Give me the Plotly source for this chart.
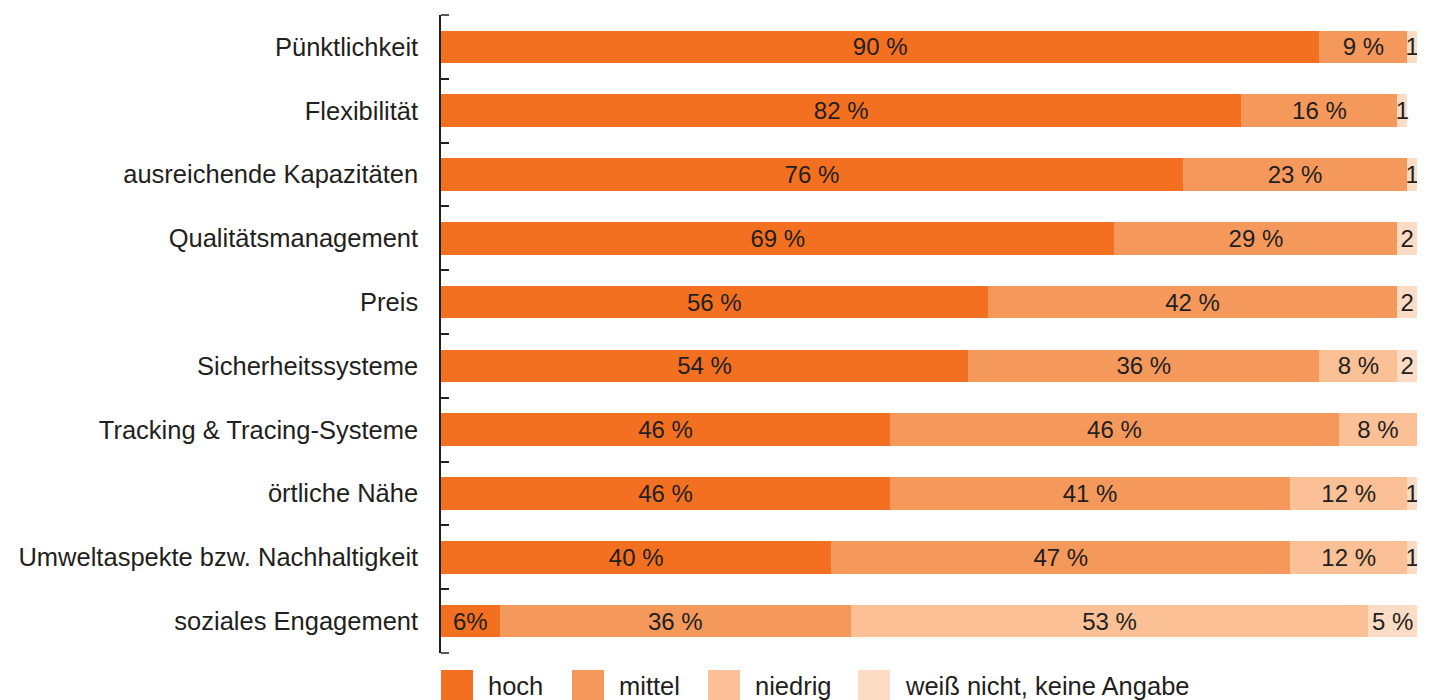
import plotly.graph_objects as go

# Survey: importance of logistics service criteria (share of respondents, %)
categories = [
    "Pünktlichkeit",
    "Flexibilität",
    "ausreichende Kapazitäten",
    "Qualitätsmanagement",
    "Preis",
    "Sicherheitssysteme",
    "Tracking & Tracing-Systeme",
    "örtliche Nähe",
    "Umweltaspekte bzw. Nachhaltigkeit",
    "soziales Engagement",
]
hoch = [90, 82, 76, 69, 56, 54, 46, 46, 40, 6]
mittel = [9, 16, 23, 29, 42, 36, 46, 41, 47, 36]
niedrig = [0, 0, 0, 0, 0, 8, 8, 12, 12, 53]
weiss_nicht = [1, 1, 1, 2, 2, 2, 0, 1, 1, 5]

series_names = ["hoch", "mittel", "niedrig", "weiß nicht, keine Angabe"]
series_values = [hoch, mittel, niedrig, weiss_nicht]
series_colors = ["#f37021", "#f5985c", "#fbc096", "#fddcc5"]

TEXT_COLOR = "#231f20"
FONT = "Liberation Sans, Arial, sans-serif"
LABEL_SIZE = 25.5


def fmt(v, compact=False):
    if v == 0:
        return ""
    if v <= 2:
        return str(v)
    return f"{v}%" if compact else f"{v} %"


fig = go.Figure()
for name, vals, col in zip(series_names, series_values, series_colors):
    labels = [fmt(v, compact=(name == "hoch" and cat == "soziales Engagement"))
              for v, cat in zip(vals, categories)]
    fig.add_trace(go.Bar(
        name=name,
        y=categories,
        x=vals,
        orientation="h",
        marker=dict(color=col, line=dict(width=0)),
        text=labels,
        textposition="inside",
        insidetextanchor="middle",
        textangle=0,
        constraintext="none",
        textfont=dict(family=FONT, size=24, color=TEXT_COLOR),
        showlegend=False,
        hoverinfo="skip",
    ))

fig.update_layout(
    width=1429,
    height=700,
    margin=dict(l=441, r=12, t=15, b=47),
    barmode="stack",
    bargap=0.49,
    paper_bgcolor="white",
    plot_bgcolor="white",
    font=dict(family=FONT, size=24, color=TEXT_COLOR),
    xaxis=dict(
        range=[0, 100],
        visible=False,
        fixedrange=True,
    ),
    yaxis=dict(
        categoryorder="array",
        categoryarray=categories,
        autorange="reversed",
        showline=True,
        linecolor=TEXT_COLOR,
        linewidth=1.5,
        ticks="inside",
        tickson="boundaries",
        ticklen=8,
        tickwidth=1.5,
        tickcolor=TEXT_COLOR,
        showgrid=False,
        zeroline=False,
        ticklabelstandoff=16,
        tickfont=dict(family=FONT, size=LABEL_SIZE, color=TEXT_COLOR),
        fixedrange=True,
    ),
)

plot_w = 1429 - 441 - 12
plot_h = 700 - 15 - 47

# Boundary ticks at the top and bottom ends of the category axis
for yb in (0, 1):
    fig.add_shape(type="line", xref="paper", yref="paper",
                  x0=0, x1=8 / plot_w, y0=yb, y1=yb,
                  line=dict(color=TEXT_COLOR, width=1.5), layer="above")

# Legend row drawn below the plot area (paper coordinates)
legend_x_px = [441, 572, 708, 858]
sq_w_px = 32
sq_top, sq_bot = 670, 702
for name, col, xp in zip(series_names, series_colors, legend_x_px):
    x0 = (xp - 441) / plot_w
    x1 = (xp + sq_w_px - 441) / plot_w
    y0 = (653 - sq_bot) / plot_h
    y1 = (653 - sq_top) / plot_h
    fig.add_shape(type="rect", xref="paper", yref="paper",
                  x0=x0, x1=x1, y0=y0, y1=y1,
                  fillcolor=col, line=dict(width=0), layer="above")
    fig.add_annotation(xref="paper", yref="paper",
                       x=(xp + sq_w_px + 13 - 441) / plot_w,
                       y=(653 - 686) / plot_h,
                       xanchor="left", yanchor="middle",
                       text=name, showarrow=False,
                       font=dict(family=FONT, size=LABEL_SIZE, color=TEXT_COLOR))

fig.write_html("out.html")
